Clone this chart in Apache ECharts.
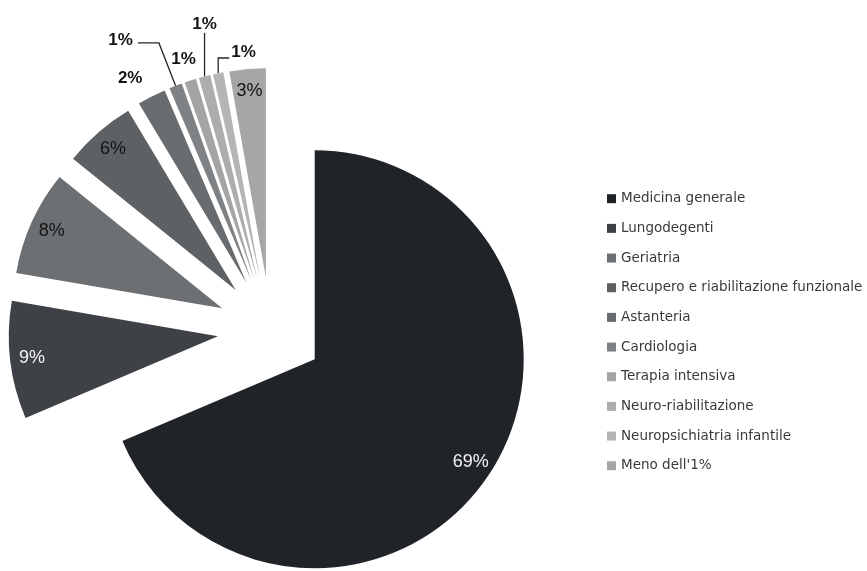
<!DOCTYPE html>
<html>
<head>
<meta charset="utf-8">
<script src="https://cdn.jsdelivr.net/npm/echarts@6/dist/echarts.min.js"></script>
<style>
  html, body { margin: 0; padding: 0; background: #ffffff; }
  #chart { width: 867px; height: 571px; }
</style>
</head>
<body>
<div id="chart"></div>
<script>
// Ward categories, in drawing order (clockwise from 12 o'clock)
const categories = [
  'Medicina generale',
  'Lungodegenti',
  'Geriatria',
  'Recupero e riabilitazione funzionale',
  'Astanteria',
  'Cardiologia',
  'Terapia intensiva',
  'Neuro-riabilitazione',
  'Neuropsichiatria infantile',
  "Meno dell'1%"
];
// Share of cases per ward (%)
const shares = [68.6, 9.1, 8.1, 5.6, 2.2, 1.0, 0.9, 0.9, 0.8, 2.8];

// ---- styling ----
const sliceColors = ['#202327', '#3e4145', '#6d7073', '#5e6164', '#696c6f',
                     '#7f8285', '#a2a4a6', '#abadaf', '#b3b5b7', '#a4a6a8'];
const labelInside = [true, true, true, true, false, false, false, false, false, true];
const insideLabelColor = ['#f4f4f4', '#f4f4f4', '#141414', '#141414', null,
                          null, null, null, null, '#141414'];
// outside labels: leader line length, second segment, text gap, line shown
const outsideLeader = {
  4: { len: 20, len2: 0, gap: 0, line: false },
  5: { len: 46, len2: 21, gap: 5, line: true },
  6: { len: 22.6, len2: -12.5, gap: 0, line: false },
  7: { len: 45, len2: 0, gap: 0, line: true },
  8: { len: 15.6, len2: 0, gap: 0, line: true }
};
// fine placement of a few outside labels
const leaderNudge = {
  5: { dy: -3 },
  7: { vertical: true, align: 'center', dy: -9 },
  8: { vertical: true, hook: 11, align: 'left', dx: 2, dy: -6 }
};

const LABEL_FONT = "'Liberation Sans', Arial, Helvetica, sans-serif";
const PIE_CENTER = [270.5, 330];
const PIE_RADIUS = 209;
const EXPLODE = 53;

const total = shares.reduce((a, b) => a + b, 0);
const pctText = p => Math.round(p.value / total * 100) + '%';

const mainData = categories.map((name, i) => {
  const item = {
    name: name,
    value: shares[i],
    selected: true,
    itemStyle: { color: sliceColors[i] }
  };
  if (labelInside[i]) {
    item.label = { show: false };
    item.labelLine = { show: false };
  } else {
    const l = outsideLeader[i];
    item.label = {
      show: true,
      position: 'outside',
      distanceToLabelLine: l.gap
    };
    item.labelLine = { show: l.line, length: l.len, length2: l.len2 };
  }
  return item;
});

// transparent ring that carries the labels placed just inside the rim
const rimData = categories.map((name, i) => ({
  name: name,
  value: shares[i],
  selected: true,
  label: labelInside[i]
    ? { show: true, color: insideLabelColor[i] }
    : { show: false }
}));

const chart = echarts.init(document.getElementById('chart'), null, { renderer: 'canvas' });

chart.setOption({
  animation: false,
  backgroundColor: '#ffffff',
  color: sliceColors,
  legend: {
    orient: 'vertical',
    left: 607,
    top: 191.7,
    padding: 0,
    itemWidth: 9,
    itemHeight: 9,
    itemGap: 15.67,
    icon: 'rect',
    selectedMode: false,
    itemStyle: { borderWidth: 0 },
    textStyle: {
      fontFamily: "'DejaVu Sans', sans-serif",
      fontSize: 13.5,
      lineHeight: 14,
      color: '#3a3a3a',
      padding: [0, 0, 0, 0]
    },
    data: categories
  },
  series: [
    {
      type: 'pie',
      name: 'main',
      center: PIE_CENTER,
      radius: [0, PIE_RADIUS],
      startAngle: 90,
      clockwise: true,
      selectedMode: 'multiple',
      selectedOffset: EXPLODE,
      avoidLabelOverlap: false,
      emphasis: { disabled: true },
      itemStyle: { borderWidth: 0 },
      label: {
        fontFamily: LABEL_FONT,
        fontSize: 17,
        fontWeight: 'bold',
        color: '#141414',
        formatter: pctText
      },
      labelLine: {
        smooth: false,
        lineStyle: { color: '#262626', width: 1.3 }
      },
      labelLayout: function (p) {
        const n = leaderNudge[p.dataIndex];
        if (!n) return {};
        const out = { dx: n.dx || 0, dy: n.dy || 0 };
        if (n.align) out.align = n.align;
        const src = p.labelLinePoints;
        if (src && src.length === 3) {
          const pts = src.map(q => q.slice());
          if (n.vertical) {
            const x0 = pts[0][0];
            pts[1][0] = x0;
            pts[2][0] = x0 + (n.hook || 0);
            // move the text anchor to the end of the rebuilt leader
            out.dx += pts[2][0] - src[2][0];
          }
          out.labelLinePoints = pts;
        }
        return out;
      },
      data: mainData
    },
    {
      type: 'pie',
      name: 'rim',
      center: PIE_CENTER,
      radius: [159, PIE_RADIUS],
      startAngle: 90,
      clockwise: true,
      selectedMode: 'multiple',
      selectedOffset: EXPLODE,
      silent: true,
      emphasis: { disabled: true },
      itemStyle: { color: 'rgba(0,0,0,0)', borderWidth: 0 },
      labelLine: { show: false },
      label: {
        position: 'inside',
        fontFamily: LABEL_FONT,
        fontSize: 18,
        fontWeight: 'normal',
        formatter: pctText
      },
      data: rimData
    }
  ]
});
</script>
</body>
</html>
